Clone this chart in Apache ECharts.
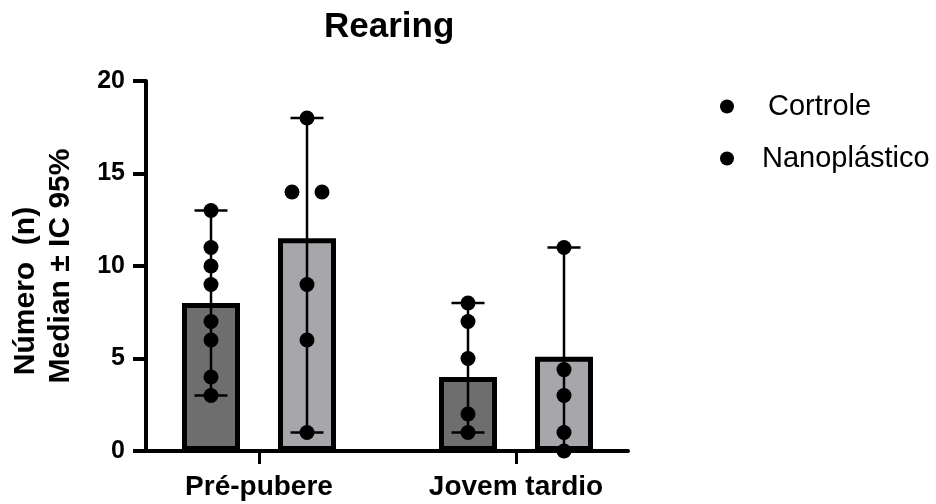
<!DOCTYPE html>
<html>
<head>
<meta charset="utf-8">
<script src="https://cdn.jsdelivr.net/npm/echarts@6/dist/echarts.min.js"></script>
<style>
  html, body { margin: 0; padding: 0; background: #fff; }
  #chart { width: 936px; height: 504px; }
</style>
</head>
<body>
<div id="chart"></div>
<script>
// dados
const categories = ['Pré-pubere', 'Jovem tardio'];
const seriesNames = ['Cortrole', 'Nanoplástico'];

// mediana (altura das barras)
const medianCortrole = [8, 4];
const medianNano = [11.5, 5.1];

// IC 95% [min, max]
const ciCortrole = [[3, 13], [1, 8]];
const ciNano = [[1, 18], [0, 11]];

// pontos individuais
const pontosCortrole = [[13, 11, 10, 9, 7, 6, 4, 3], [8, 7, 5, 2, 1]];
const pontosNano = [[18, 14, 14, 9, 6, 1], [11, 4.4, 3, 1, 0]];

const yMin = 0, yMax = 20, yStep = 5;

// layout
const FONT = '"Liberation Sans", Arial, sans-serif';
const BAR_W = 58;
const BAR_SEP = 96;
const offsets = [-BAR_SEP / 2, BAR_SEP / 2];
const colors = ['#6e6e6e', '#a7a7ab'];

// dados das barras de erro: [categoria, min, max, serie]
const errorData = [];
[ciCortrole, ciNano].forEach((ci, s) => {
  ci.forEach((r, i) => errorData.push([i, r[0], r[1], s]));
});

// pontos: [categoria, valor, serie, deslocamento]
const pointData = [];
[pontosCortrole, pontosNano].forEach((grupos, s) => {
  grupos.forEach((vals, i) => {
    const seen = {};
    vals.forEach((v) => {
      const n = vals.filter((x) => x === v).length;
      const k = seen[v] || 0;
      seen[v] = k + 1;
      pointData.push([i, v, s, (k - (n - 1) / 2) * 30]);
    });
  });
});

const chart = echarts.init(document.getElementById('chart'));

const option = {
  backgroundColor: '#fff',
  animation: false,
  title: {
    text: 'Rearing',
    left: 324,
    top: 10,
    padding: 0,
    textStyle: { fontFamily: FONT, fontSize: 35, fontWeight: 'bold', color: '#000' },
  },
  legend: {
    orient: 'vertical',
    left: 720,
    top: 92,
    padding: 0,
    itemWidth: 14,
    itemHeight: 14,
    itemGap: 23,
    selectedMode: false,
    data: seriesNames.map((n) => ({
      name: n,
      icon: 'circle',
      itemStyle: { color: '#000', borderWidth: 0 },
    })),
    formatter: (name) => (name === seriesNames[0] ? '{a|' : '{b|') + name + '}',
    textStyle: {
      fontFamily: FONT,
      fontSize: 29,
      color: '#000',
      rich: {
        a: { fontFamily: FONT, fontSize: 29, color: '#000', padding: [0, 0, 0, 29] },
        b: { fontFamily: FONT, fontSize: 29, color: '#000', padding: [0, 0, 0, 23] },
      },
    },
  },
  grid: [
    { left: 145, top: 81, width: 483, height: 370 },
    { left: 130.5, top: 81, width: 514, height: 370 },
  ],
  xAxis: [
    {
      gridIndex: 0,
      type: 'value',
      min: 0,
      max: 1,
      axisLine: { show: true, lineStyle: { color: '#000', width: 4 } },
      axisTick: { show: false },
      axisLabel: { show: false },
      splitLine: { show: false },
    },
    {
      gridIndex: 1,
      type: 'category',
      data: categories,
      axisLine: { show: false },
      axisTick: { show: true, alignWithLabel: true, length: 13, lineStyle: { color: '#000', width: 3 } },
      axisLabel: {
        margin: 22,
        fontFamily: FONT,
        fontSize: 28,
        fontWeight: 'bold',
        color: '#000',
      },
      splitLine: { show: false },
    },
  ],
  yAxis: [
    {
      gridIndex: 0,
      type: 'value',
      min: yMin,
      max: yMax,
      interval: yStep,
      name: 'Número  (n)      \nMedian ± IC 95%',
      nameLocation: 'middle',
      nameGap: 68,
      nameTextStyle: {
        fontFamily: FONT,
        fontSize: 30,
        fontWeight: 'bold',
        color: '#000',
        lineHeight: 35,
      },
      axisLine: { show: true, lineStyle: { color: '#000', width: 4 } },
      axisTick: { show: true, length: 13, lineStyle: { color: '#000', width: 4 } },
      axisLabel: {
        margin: 21,
        fontFamily: FONT,
        fontSize: 25,
        fontWeight: 'bold',
        color: '#000',
      },
      splitLine: { show: false },
    },
    {
      gridIndex: 1,
      type: 'value',
      min: yMin,
      max: yMax,
      show: false,
    },
  ],
  series: [
    {
      name: seriesNames[0],
      type: 'bar',
      xAxisIndex: 1,
      yAxisIndex: 1,
      data: medianCortrole,
      barWidth: BAR_W,
      barGap: ((BAR_SEP - BAR_W) / BAR_W * 100) + '%',
      itemStyle: { color: colors[0], borderColor: '#000', borderWidth: 5 },
      z: 2,
    },
    {
      name: seriesNames[1],
      type: 'bar',
      xAxisIndex: 1,
      yAxisIndex: 1,
      data: medianNano,
      barWidth: BAR_W,
      barGap: ((BAR_SEP - BAR_W) / BAR_W * 100) + '%',
      itemStyle: { color: colors[1], borderColor: '#000', borderWidth: 5 },
      z: 2,
    },
    {
      name: 'IC 95%',
      type: 'custom',
      xAxisIndex: 1,
      yAxisIndex: 1,
      z: 4,
      data: errorData,
      renderItem: (params, api) => {
        const off = offsets[api.value(3)];
        const lo = api.coord([api.value(0), api.value(1)]);
        const hi = api.coord([api.value(0), api.value(2)]);
        const x = lo[0] + off;
        const style = { stroke: '#000', lineWidth: 2.5 };
        return {
          type: 'group',
          children: [
            { type: 'line', shape: { x1: x, y1: lo[1], x2: x, y2: hi[1] }, style },
            { type: 'line', shape: { x1: x - 16.5, y1: lo[1], x2: x + 16.5, y2: lo[1] }, style },
            { type: 'line', shape: { x1: x - 16.5, y1: hi[1], x2: x + 16.5, y2: hi[1] }, style },
          ],
        };
      },
    },
    {
      name: 'pontos',
      type: 'custom',
      xAxisIndex: 1,
      yAxisIndex: 1,
      z: 5,
      data: pointData,
      renderItem: (params, api) => {
        const p = api.coord([api.value(0), api.value(1)]);
        return {
          type: 'circle',
          shape: { cx: p[0] + offsets[api.value(2)] + api.value(3), cy: p[1], r: 7.5 },
          style: { fill: '#000' },
        };
      },
    },
  ],
};

chart.setOption(option);
</script>
</body>
</html>
